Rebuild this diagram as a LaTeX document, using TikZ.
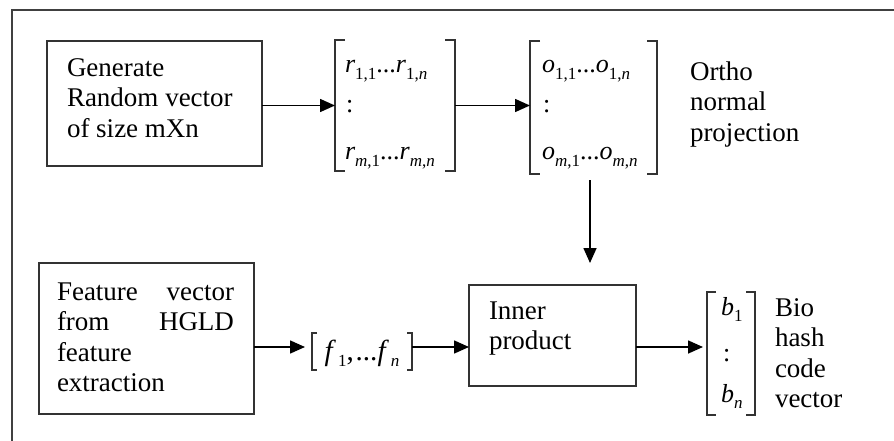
\documentclass[tikz,border=0pt]{standalone}
\usepackage{fontspec}
\setmainfont{Liberation Serif}
\usetikzlibrary{arrows.meta}
\newcommand{\mi}[1]{\textit{#1}}
\newcommand{\sbx}[1]{\raisebox{-0.24em}{\fontsize{17}{17}\selectfont #1}}
\newcommand{\drawbrk}[2]{%
  \draw[brk] ([xshift=#2]#1.north west) -- (#1.north west) -- (#1.south west) -- ([xshift=#2]#1.south west);
  \draw[brk] ([xshift=-#2]#1.north east) -- (#1.north east) -- (#1.south east) -- ([xshift=-#2]#1.south east);}
\tikzset{
  frame/.style={draw=black!75, line width=2pt},
  box/.style={draw=black!80, line width=1.5pt, inner sep=0pt, outer sep=0pt, anchor=north west},
  mat/.style={inner sep=0pt, outer sep=0pt, anchor=north west},
  brk/.style={draw=black!80, line width=1.2pt},
  txt/.style={font=\fontsize{27}{30.5}\selectfont, inner sep=0pt, outer sep=0pt, align=left, anchor=north west},
  mtxt/.style={font=\fontsize{26}{28}\selectfont, inner sep=0pt, outer sep=0pt, anchor=base west},
  arr/.style={draw=black, line width=1.6pt, -{Triangle[length=15pt,width=13pt]}},
}
\begin{document}
\begin{tikzpicture}[x=1pt,y=-1pt]
\useasboundingbox (0,0) rectangle (894,441);
% outer frame
\draw[frame] (12,441) -- (12,10) -- (894,10);

% top row
\node[box, minimum width=215pt, minimum height=125pt] (gen) at (47,41) {};
\node[txt] (gentxt) at (67,55) {\strut Generate\\Random vector\\of size mXn};

\node[mat, minimum width=120pt, minimum height=131pt] (rmat) at (335,40) {};
\drawbrk{rmat}{10}
\node[mtxt] (r1) at (345,73) {\mi{r}\sbx{1,1}...\mi{r}\sbx{1,\mi{n}}};
\node[mtxt] (rc) at (346,113) {:};
\node[mtxt] (rm) at (345,160) {\mi{r}\sbx{\mi{m},1}...\mi{r}\sbx{\mi{m},\mi{n}}};

\node[mat, minimum width=127pt, minimum height=133pt] (omat) at (530,41) {};
\drawbrk{omat}{10}
\node[mtxt] (o1) at (542,73) {\mi{o}\sbx{1,1}...\mi{o}\sbx{1,\mi{n}}};
\node[mtxt] (oc) at (543,113) {:};
\node[mtxt] (om) at (542,160) {\mi{o}\sbx{\mi{m},1}...\mi{o}\sbx{\mi{m},\mi{n}}};

\node[txt] (ortho) at (690,59) {\strut Ortho\\normal\\projection};

% bottom row
\node[box, minimum width=215pt, minimum height=151pt] (feat) at (39,263) {};
\node[txt, text width=177pt, align=justify] (feattxt) at (57,279)
  {\strut Feature vector\linebreak from HGLD\linebreak feature\newline extraction};

\node[mat, minimum width=100pt, minimum height=37pt] (fvec) at (312,333) {};
\drawbrk{fvec}{5}
\node[mtxt, font=\fontsize{29}{30}\selectfont, anchor=base] (ftxt) at (362,360) {\mi{f}\kern2pt\sbx{1},\kern2pt...\mi{f}\kern2pt\sbx{\mi{n}}};

\node[box, minimum width=167pt, minimum height=101pt] (inner) at (469,285) {};
\node[txt] (innertxt) at (489,298) {\strut Inner\\product};

\node[mat, minimum width=48pt, minimum height=123pt] (bmat) at (707,292) {};
\drawbrk{bmat}{9}
\node[mtxt] (b1) at (721,315) {\mi{b}\sbx{1}};
\node[mtxt] (bc) at (723,361) {:};
\node[mtxt] (bn) at (721,402) {\mi{b}\sbx{\mi{n}}};

\node[txt] (bio) at (775,295) {\strut Bio\\hash\\code\\vector};

% connectors
\coordinate (row2) at (0,347);
\coordinate (vtop) at (590,180);
\coordinate (vend) at (590,263);
\draw[arr] (gen.east |- rmat.west) -- (rmat.west);
\draw[arr] (rmat.east) -- (rmat.east -| omat.west);
\draw[arr] (vtop) -- (vend);
\draw[arr, shorten >=7pt] (feat.east |- row2) -- (fvec.west |- row2);
\draw[arr] (fvec.east |- row2) -- (inner.west |- row2);
\draw[arr, shorten >=4pt] (inner.east |- row2) -- (bmat.west |- row2);
\end{tikzpicture}
\end{document}
